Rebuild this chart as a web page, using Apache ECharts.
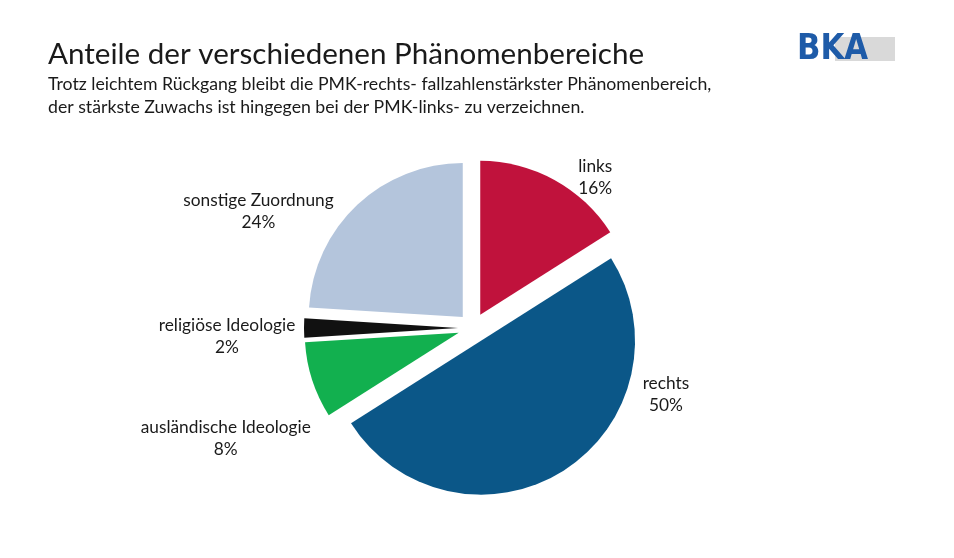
<!DOCTYPE html>
<html>
<head>
<meta charset="utf-8">
<script src="https://cdn.jsdelivr.net/npm/echarts@6/dist/echarts.min.js"></script>
<style>
html,body{margin:0;padding:0;background:#fff;}
#chart{width:954px;height:558px;}
</style>
</head>
<body>
<div id="chart"></div>
<script>
// ---- data ----
const categories = ['links', 'rechts', 'ausländische Ideologie', 'religiöse Ideologie', 'sonstige Zuordnung'];
const shares = [16, 50, 8, 2, 24];
const titleText = 'Anteile der verschiedenen Phänomenbereiche';
const subtitleText = 'Trotz leichtem Rückgang bleibt die PMK-rechts- fallzahlenstärkster Phänomenbereich,\nder stärkste Zuwachs ist hingegen bei der PMK-links- zu verzeichnen.';
const logoText = 'BKA';

// ---- styles ----
const palette = ['#C0123C', '#0B5788', '#12B04F', '#111111', '#B4C5DC'];
const labelNudge = [[31, 6], [92, -85], [-72, 55], [-62, 8], [-87, 14]];
const FONT = 'Lato, "Open Sans", sans-serif';

const chart = echarts.init(document.getElementById('chart'), null, {renderer: 'canvas'});
chart.setOption({
  animation: false,
  backgroundColor: '#ffffff',
  title: {
    text: titleText,
    subtext: subtitleText,
    left: 43,
    top: 34,
    itemGap: 4,
    textStyle: {fontFamily: FONT, fontSize: 29.6, fontWeight: 'normal', color: '#1a1a1a'},
    subtextStyle: {fontFamily: FONT, fontSize: 17.7, lineHeight: 23, color: '#1a1a1a'}
  },
  graphic: [
    {type: 'rect', shape: {x: 835, y: 37, width: 60, height: 24}, style: {fill: '#d9d9d9'}, z: 10},
    {type: 'text', x: 797, y: 50, scaleX: 0.88, z: 11,
     style: {text: logoText, fontFamily: 'DejaVu Sans', fontWeight: 'bold', fontSize: 35,
             fill: '#1e5ba8', verticalAlign: 'middle'}}
  ],
  series: [{
    type: 'pie',
    center: [473, 328],
    radius: 154,
    startAngle: 90,
    clockwise: true,
    selectedMode: 'multiple',
    selectedOffset: 15,
    avoidLabelOverlap: false,
    emphasis: {disabled: true},
    label: {
      show: true,
      position: 'outside',
      fontFamily: FONT,
      fontSize: 17.3,
      lineHeight: 22,
      color: '#1a1a1a',
      formatter: p => p.name + '\n' + p.value + '%'
    },
    labelLine: {show: false, length: 10, length2: 0},
    labelLayout: function (p) {
      const n = labelNudge[p.dataIndex];
      return {align: 'center', dx: n[0], dy: n[1]};
    },
    data: categories.map((c, i) => ({
      name: c,
      value: shares[i],
      selected: true,
      itemStyle: {color: palette[i]}
    }))
  }]
});
</script>
</body>
</html>
